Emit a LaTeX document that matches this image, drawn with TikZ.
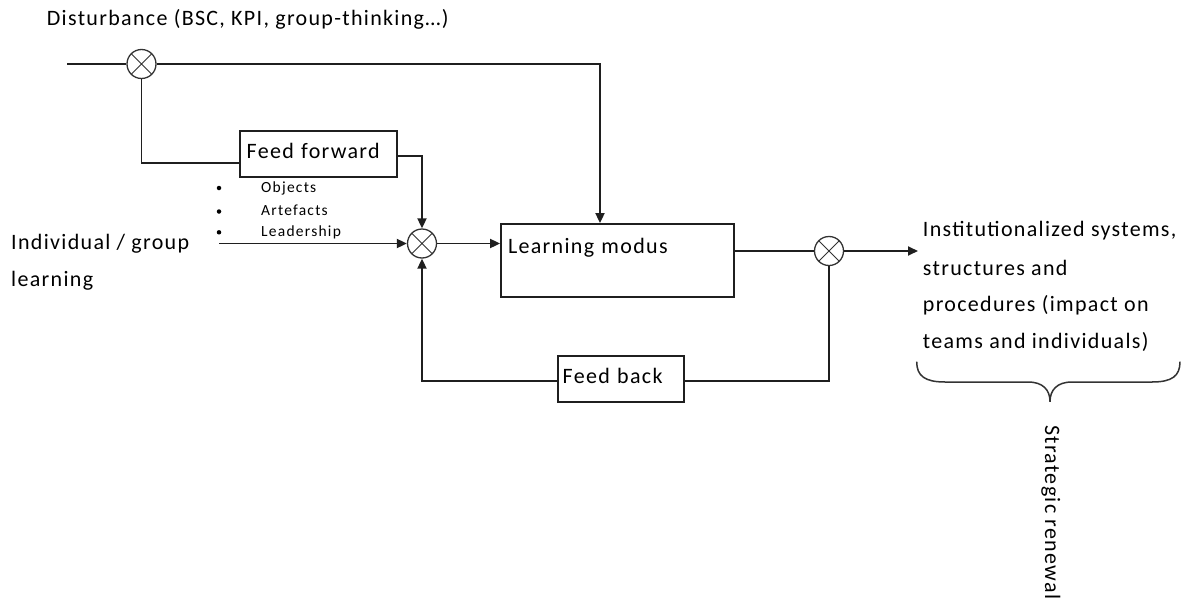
\documentclass[tikz,border=0pt]{standalone}
\usepackage{fontspec}
\setmainfont{Carlito}[LetterSpace=6]
\newfontfamily\listfont{Carlito}[LetterSpace=8]
\usetikzlibrary{arrows.meta,calc}

\begin{document}
\begin{tikzpicture}[x=1pt,y=-1pt,
  lbl/.style={font=\fontsize{22}{26}\selectfont, inner sep=0pt, anchor=base west},
  lst/.style={font=\listfont\fontsize{15.5}{18}\selectfont, inner sep=0pt, anchor=base west},
  dot/.style={circle, fill=black, inner sep=0pt, minimum size=4.5pt},
  wire/.style={line width=1.8pt, draw=black!88},
  arr/.style={wire, -{Triangle[length=10pt,width=9pt]}},
  box/.style={draw=black!88, line width=1.8pt, inner ysep=0pt, align=left,
              font=\fontsize{22}{26}\selectfont},
  mix/.style={circle, draw=black!80, line width=1.3pt, minimum size=29pt, inner sep=0pt,
    path picture={\draw[line width=0.9pt, black!80]
      (path picture bounding box.north west) -- (path picture bounding box.south east)
      (path picture bounding box.north east) -- (path picture bounding box.south west);}},
]
\useasboundingbox[fill=white] (0,0) rectangle (1186,605);

% summing junctions
\node[mix] (c1) at (141.5,64) {};
\node[mix] (c2) at (422,243.5) {};
\node[mix] (c3) at (829,251) {};

% blocks
\node[box, text width=143.9pt, inner xsep=6.7pt, minimum height=46pt,
      text height=12pt, text depth=2.8pt] (ff) at (318.65,153.7) {Feed forward};
\node[box, text width=219pt, inner xsep=7pt, minimum height=73pt,
      text height=12pt, text depth=26.4pt] (lm) at (617.5,260.5) {Learning modus};
\node[box, text width=117.2pt, inner xsep=4.4pt, minimum height=45.7pt,
      text height=12pt, text depth=3.1pt] (fb) at (621.3,378.85) {Feed back};

% labels
\node[lbl] (dist) at (46.7,25.5) {Disturbance (BSC, KPI, group-thinking…)};
\node[lbl] (ind1) at (11,249) {Individual / group};
\node[lbl] (ind2) at (11,286.5) {learning};

\node[dot] (d1) at (219,188) {};
\node[dot] (d2) at (219,211.5) {};
\node[dot] (d3) at (219,232.3) {};
\node[lst] (l1) at (261,192.5) {Objects};
\node[lst] (l2) at (261,215) {Artefacts};
\node[lst] (l3) at (261,236) {Leadership};

\node[lbl] (r1) at (922.7,236.5) {Institutionalized systems,};
\node[lbl] (r2) at (922.7,275) {structures and};
\node[lbl] (r3) at (922.7,311.7) {procedures (impact on};
\node[lbl] (r4) at (922.7,348) {teams and individuals)};

\node[lbl, rotate=-90] (sr) at (1045,425) {Strategic renewal};

% connectors
\coordinate (src) at (67,64);
\coordinate (tr) at (600,64);
\coordinate (il) at (219,243.5);
\coordinate (out) at (918,251);

\draw[wire] (src) -- (c1);
\draw[arr] (c1) -- (tr) -- (tr |- lm.north);
\draw[wire] (c1) |- ($(ff.west)+(0,9)$);
\draw[arr] ($(ff.east)+(0,2)$) -| (c2);
\draw[arr] (il) -- (c2);
\draw[arr] (c2) -- (c2 -| lm.west);
\draw[wire] (lm.east |- c3) -- (c3);
\draw[arr] (c3) -- (out);
\draw[wire] (c3) |- ($(fb.east)+(0,2)$);
\draw[arr] ($(fb.west)+(0,2)$) -| (c2);

% brace under the outcome text
\draw[line width=1.5pt, black!80]
  (916.7,361.7) .. controls (916.7,376) and (925,382) .. (945,382) -- (1028,382)
  .. controls (1043,382) and (1050,390) .. (1050,401.7)
  .. controls (1050,390) and (1057,382) .. (1072,382) -- (1152,382)
  .. controls (1172,382) and (1180,376) .. (1180,361.7);
\end{tikzpicture}
\end{document}
